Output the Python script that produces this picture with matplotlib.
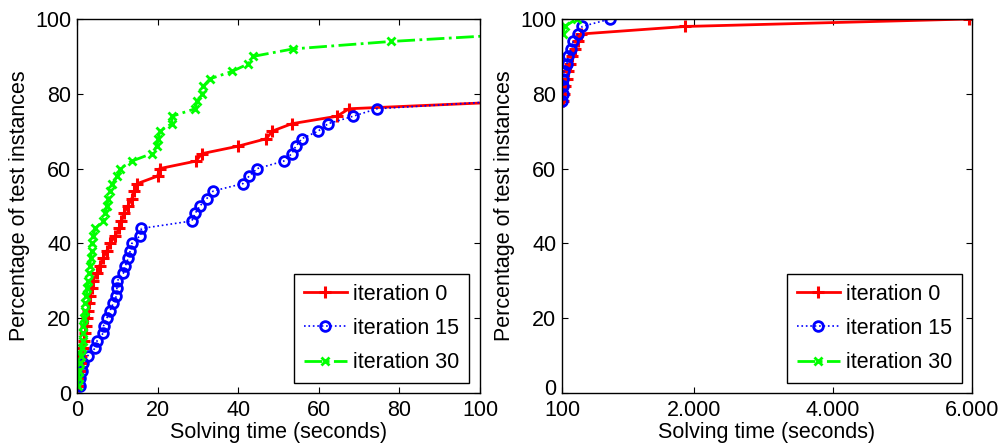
import matplotlib
matplotlib.use("Agg")
import matplotlib.pyplot as plt
import matplotlib.transforms as mtransforms
from matplotlib.ticker import FixedLocator, FixedFormatter

plt.rcParams['font.family'] = ['Liberation Sans', 'DejaVu Sans']

# Percentage of solved test instances (cumulative)
percent = [2, 4, 6, 8, 10, 12, 14, 16, 18, 20, 22, 24, 26, 28, 30, 32, 34, 36, 38, 40,
           42, 44, 46, 48, 50, 52, 54, 56, 58, 60, 62, 64, 66, 68, 70, 72, 74, 76, 78, 80,
           82, 84, 86, 88, 90, 92, 94, 96, 98, 100]

# Solving times (seconds) per iteration
time_iter0 = [0.3, 0.5, 0.7, 0.9, 1.1, 1.4, 1.7, 2.0, 2.3, 2.5, 2.7, 3.0, 3.3, 3.6, 4.0,
              5.0, 5.6, 6.4, 7.4, 8.2, 9.5, 10.5, 11.0, 11.6, 12.6, 13.6, 14.2, 15.0, 20.0, 20.5,
              29.5, 31.0, 40.0, 47.0, 48.4, 53.3, 64.5, 67.5, 110, 130,
              150, 170, 190, 220, 250, 290, 330, 380, 1870, 5950]
time_iter15 = [0.8, 0.8, 1.2, 1.5, 2.7, 4.5, 5.0, 6.5, 6.6, 7.4, 8.2, 9.0, 9.8, 9.9, 10.0,
               11.5, 12.0, 12.7, 13.2, 13.6, 15.6, 16.0, 28.5, 29.3, 30.5, 32.2, 33.8, 41.2, 42.7, 44.7,
               51.3, 53.3, 54.3, 55.8, 59.8, 62.3, 68.5, 74.4, 105, 110,
               115, 120, 130, 170, 190, 230, 260, 330, 390, 790]
time_iter30 = [0.2, 0.4, 0.6, 0.8, 1.0, 1.2, 1.4, 1.5, 1.6, 1.8, 2.0, 2.1, 2.3, 2.5, 2.8,
               3.0, 3.2, 3.4, 3.6, 3.8, 4.0, 4.5, 6.5, 7.0, 7.4, 7.8, 8.2, 8.8, 10.0, 10.7,
               13.6, 18.5, 19.8, 20.2, 20.5, 23.5, 23.6, 29.3, 29.8, 31.0,
               31.3, 33.0, 38.5, 42.5, 43.7, 53.6, 78.0, 110, 140, 310]

labels = ["iteration 0", "iteration 15", "iteration 30"]
left_xticks = [0, 20, 40, 60, 80, 100]
right_xticks = [100, 2000, 4000, 6000]
right_xticklabels = ["100", "2.000", "4.000", "6.000"]
yticks = [0, 20, 40, 60, 80, 100]

FS = 15.5
fig = plt.figure(figsize=(9.98, 4.47), dpi=100)
ax1 = fig.add_axes([77/998, 54/447, 403/998, 374/447])
ax2 = fig.add_axes([562/998, 54/447, 410/998, 374/447])

def draw(ax, xmin, xmax, pad):
    def visible(times):
        return [i for i, t in enumerate(times) if xmin <= t <= xmax]
    ax.plot(time_iter0, percent, color=(1, 0, 0), linestyle='-', linewidth=2,
            marker='+', markersize=8, markeredgewidth=2.2, label=labels[0],
            markevery=visible(time_iter0))
    ax.plot(time_iter15, percent, color=(0, 0, 1), linestyle=':', linewidth=1.2,
            marker='o', markersize=7, markerfacecolor='none', markeredgewidth=2,
            label=labels[1], markevery=visible(time_iter15))
    ax.plot(time_iter30, percent, color=(0, 1, 0), linestyle='-.', linewidth=2,
            marker='x', markersize=6, markeredgewidth=2, label=labels[2],
            markevery=visible(time_iter30))
    ax.set_xlim(xmin, xmax)
    ax.set_ylim(0, 100)
    ax.yaxis.set_major_locator(FixedLocator(yticks))
    ax.tick_params(direction='in', length=4, width=0.8, top=True, right=True,
                   labelsize=FS)
    ax.tick_params(axis='x', pad=pad)
    ax.tick_params(axis='y', pad=4)
    for s in ax.spines.values():
        s.set_linewidth(1.0)
    ax.set_xlabel("Solving time (seconds)", fontsize=FS, labelpad=1)
    ax.set_ylabel("Percentage of test instances", fontsize=FS, labelpad=4)

def legend(ax, xa):
    leg = ax.legend(loc='lower right', bbox_to_anchor=(xa, 0.0267), borderaxespad=0,
                    fontsize=FS, fancybox=False, edgecolor='black', framealpha=1,
                    handlelength=2.0, handletextpad=0.3, borderpad=0.45, labelspacing=0.62)
    leg.get_frame().set_linewidth(1.0)

draw(ax1, 0, 100, 5)
ax1.xaxis.set_major_locator(FixedLocator(left_xticks))
legend(ax1, 0.9727)

draw(ax2, 100, 6000, 5)
ax2.xaxis.set_major_locator(FixedLocator(right_xticks))
ax2.xaxis.set_major_formatter(FixedFormatter(right_xticklabels))
legend(ax2, 0.9756)

# lift the right panel's "0" y-tick label slightly, as in the reference
zero_tick = ax2.yaxis.get_major_ticks()[0]
zero_tick.label1.set_verticalalignment('baseline')
zero_tick.label1.set_transform(zero_tick.label1.get_transform() +
                               mtransforms.ScaledTranslation(0, -2/100, fig.dpi_scale_trans))

fig.savefig("out.png", dpi=100)
